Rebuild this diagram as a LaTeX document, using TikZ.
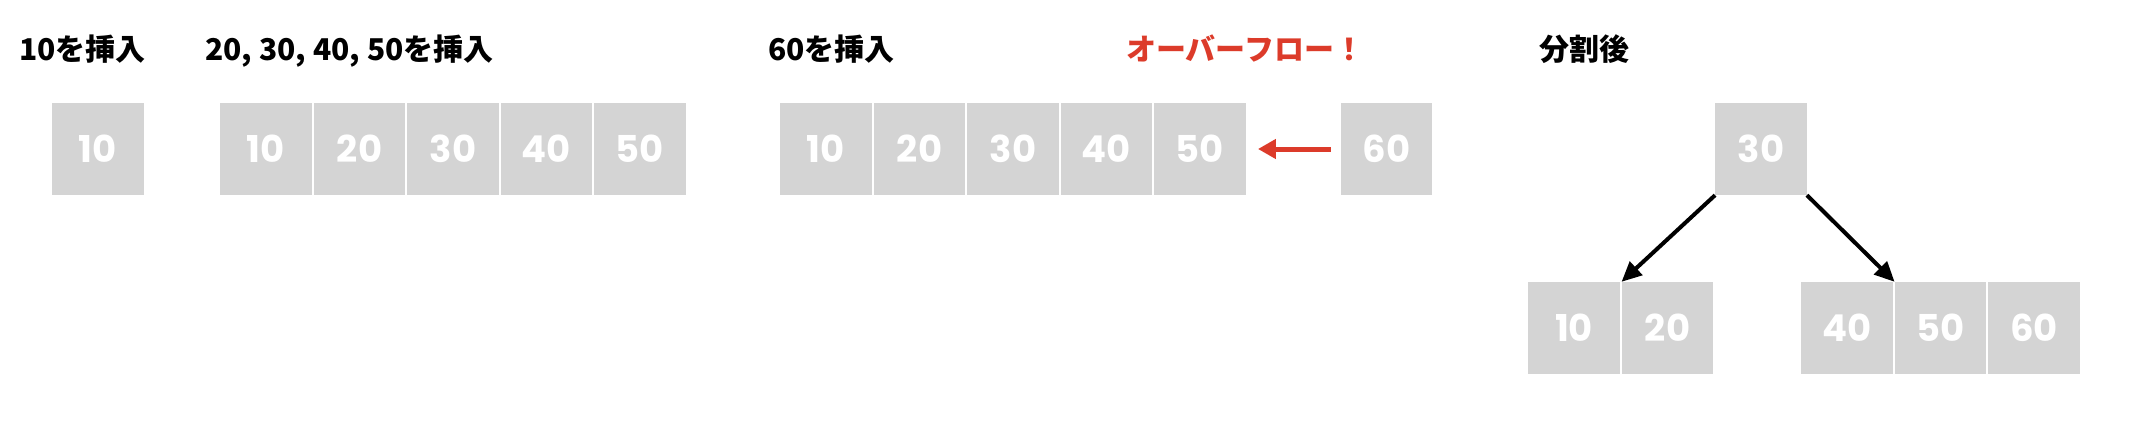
\documentclass[tikz,border=0pt]{standalone}
\usepackage{fontspec}
\newfontfamily\jpfont{Noto Sans CJK JP}
\newfontfamily\numfont{Poppins}
\usetikzlibrary{arrows.meta}
\definecolor{boxgray}{HTML}{D4D4D4}
\definecolor{ovred}{HTML}{DC3B2A}
\begin{document}
\begin{tikzpicture}[x=1pt,y=-1pt,
  cell/.style={fill=boxgray, minimum width=91.5pt, minimum height=92pt, inner sep=0pt,
    text=white, font=\numfont\bfseries\fontsize{37}{37}\selectfont},
  title/.style={anchor=base west, inner sep=0pt, font=\jpfont\bfseries\fontsize{30}{36}\selectfont},
  blackarrow/.style={line width=4pt, -{Triangle[length=20pt,width=18pt]}},
  redarrow/.style={ovred, line width=5pt, -{Triangle[length=18pt,width=19pt]}}]
\useasboundingbox (0,0) rectangle (2146,441);
% titles
\node[title] (t1) at (19,61) {10を挿入};
\node[title] (t2) at (205,61) {20, 30, 40, 50を挿入};
\node[title] (t3) at (768,61) {60を挿入};
\node[title, text=ovred] (t4) at (1126,61) {オーバーフロー！};
\node[title] (t5) at (1539,61) {分割後};
% step 1
\node[cell] (s1) at (98,149) {10};
% step 2
\node[cell] (a1) at (266,149) {10};
\node[cell] (a2) at (359.5,149) {20};
\node[cell] (a3) at (453,149) {30};
\node[cell] (a4) at (546.5,149) {40};
\node[cell] (a5) at (640,149) {50};
% step 3
\node[cell] (b1) at (826,149) {10};
\node[cell] (b2) at (919.5,149) {20};
\node[cell] (b3) at (1013,149) {30};
\node[cell] (b4) at (1106.5,149) {40};
\node[cell] (b5) at (1200,149) {50};
\node[cell] (b6) at (1386.5,149) {60};
\draw[redarrow, shorten <=10pt, shorten >=12pt] (b6.west) -- (b5.east);
% split
\node[cell] (p) at (1761,149) {30};
\node[cell] (l1) at (1574,328) {10};
\node[cell] (l2) at (1667.5,328) {20};
\node[cell] (r1) at (1847,328) {40};
\node[cell] (r2) at (1940.5,328) {50};
\node[cell] (r3) at (2034,328) {60};
\draw[blackarrow] (p.south west) -- (l2.north west);
\draw[blackarrow] (p.south east) -- (r2.north west);
\end{tikzpicture}
\end{document}
